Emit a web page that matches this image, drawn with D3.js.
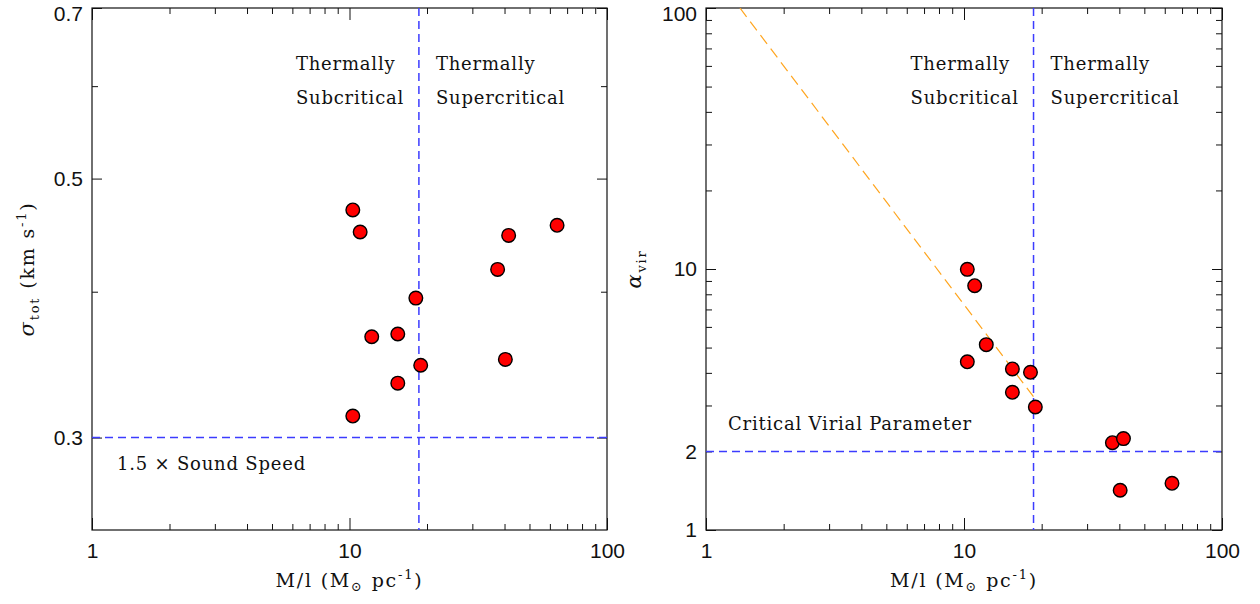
<!DOCTYPE html>
<html>
<head>
<meta charset="utf-8">
<script src="https://cdn.jsdelivr.net/npm/d3@7"></script>
<style>
  html, body { margin: 0; padding: 0; background: #fff; }
  svg { display: block; }
  .tick text { font-family: "Liberation Sans", Arial, sans-serif; font-size: 21px; fill: #111; }
  .ann { font-family: "DejaVu Serif", serif; font-size: 18px; letter-spacing: 0.8px; fill: #111; }
  .ttl { font-family: "DejaVu Serif", serif; font-size: 19px; letter-spacing: 1.8px; fill: #111; }
  .ref { stroke: #3c3cff; stroke-width: 1.5px; stroke-dasharray: 8 5; fill: none; }
</style>
</head>
<body>
<svg id="chart" width="1260" height="604"></svg>
<script>
// ---------------- data ----------------
const massPerLength = [10.3, 11.0, 12.2, 10.3, 15.4, 18.1, 15.4, 18.9, 37.6, 41.5, 40.3, 64.0];
const sigmaTot      = [0.470, 0.450, 0.366, 0.313, 0.368, 0.395, 0.334, 0.346, 0.418, 0.447, 0.350, 0.456];
const alphaVir      = [9.97, 8.63, 5.13, 4.41, 4.14, 4.02, 3.37, 2.96, 2.16, 2.24, 1.42, 1.51];

const criticalMassPerLength = 18.6;
const soundSpeedLimit = 0.3;
const criticalAlpha = 2;
const fitLineX = [1.354, 18.6];
const fitLineY = [100, 3.24];

const xDomain = [1, 100];
const sigmaDomain = [0.25, 0.7];
const alphaDomain = [1, 100];

const xMajorTicks = [1, 10, 100];
const xMinorTicks = [2,3,4,5,6,7,8,9,20,30,40,50,60,70,80,90];
const sigmaMajorTicks = [0.3, 0.5, 0.7];
const sigmaMinorTicks = [0.4, 0.6];
const sigmaTickLabels = ["0.3", "0.5", "0.7"];
const alphaMajorTicks = [1, 10, 100];
const alphaMinorTicks = [2,3,4,5,6,7,8,9,20,30,40,50,60,70,80,90];
const alphaLabelTicks = [1, 2, 10, 100];
const xTickLabels = ["1", "10", "100"];

// ---------------- layout ----------------
const svg = d3.select("#chart");
const plotTop = 8, plotBottom = 530;
const panels = [
  { x0: 92, x1: 607 },
  { x0: 706, x1: 1222 }
];
const orange = "#ffa51e";

function refLine(g, x1, y1, x2, y2) {
  g.append("path")
    .attr("class", "ref")
    .attr("d", d3.line()([[x1, y1], [x2, y2]]));
}

function drawPanel(p, yScale, yMajor, yMinor, yLabelVals, yLabelFmt, id) {
  const g = svg.append("g");
  const x = d3.scaleLog().domain(xDomain).range([p.x0, p.x1]);
  const y = yScale;
  const h = plotBottom - plotTop, w = p.x1 - p.x0;

  const clipId = "clip" + id;
  svg.append("clipPath").attr("id", clipId)
    .append("rect").attr("x", p.x0).attr("y", plotTop).attr("width", w).attr("height", h);

  function tickAxis(axis, transform, vals, size) {
    const a = g.append("g").attr("transform", transform)
      .call(axis.tickValues(vals).tickSize(size).tickFormat(""));
    a.select(".domain").remove();
    a.selectAll(".tick line").attr("stroke", "#111").attr("stroke-width", 1);
  }
  tickAxis(d3.axisBottom(x), `translate(0,${plotBottom})`, xMajorTicks, -12);
  tickAxis(d3.axisBottom(x), `translate(0,${plotBottom})`, xMinorTicks, -6);
  tickAxis(d3.axisTop(x), `translate(0,${plotTop})`, xMajorTicks, -12);
  tickAxis(d3.axisTop(x), `translate(0,${plotTop})`, xMinorTicks, -6);
  tickAxis(d3.axisLeft(y), `translate(${p.x0},0)`, yMajor, -10);
  tickAxis(d3.axisLeft(y), `translate(${p.x0},0)`, yMinor, -6);
  tickAxis(d3.axisRight(y), `translate(${p.x1},0)`, yMajor, -10);
  tickAxis(d3.axisRight(y), `translate(${p.x1},0)`, yMinor, -6);

  const xl = g.append("g").attr("transform", `translate(0,${plotBottom})`)
    .call(d3.axisBottom(x).tickValues(xMajorTicks).tickSize(0).tickPadding(13)
      .tickFormat((d, i) => xTickLabels[i]));
  xl.select(".domain").remove();
  const yl = g.append("g").attr("transform", `translate(${p.x0},0)`)
    .call(d3.axisLeft(y).tickValues(yLabelVals).tickSize(0).tickPadding(9)
      .tickFormat(yLabelFmt));
  yl.select(".domain").remove();
  yl.selectAll(".tick text").filter(d => y(d) < plotTop + 4).attr("y", 6);

  g.append("rect").attr("x", p.x0).attr("y", plotTop).attr("width", w).attr("height", h)
    .attr("fill", "none").attr("stroke", "#111").attr("stroke-width", 1.2);

  return { g, x, y, clipId };
}

// ---------------- left panel ----------------
const ySigma = d3.scaleLog().domain(sigmaDomain).range([plotBottom, plotTop]);
const L = drawPanel(panels[0], ySigma, sigmaMajorTicks, sigmaMinorTicks, sigmaMajorTicks,
  (d, i) => sigmaTickLabels[i], "L");

refLine(L.g, L.x(criticalMassPerLength), plotTop, L.x(criticalMassPerLength), plotBottom);
refLine(L.g, panels[0].x0, ySigma(soundSpeedLimit), panels[0].x1, ySigma(soundSpeedLimit));

L.g.selectAll("circle.pt").data(massPerLength).enter().append("circle")
  .attr("class", "pt")
  .attr("cx", d => L.x(d)).attr("cy", (d, i) => ySigma(sigmaTot[i]))
  .attr("r", 6.8).attr("fill", "#ff0000").attr("stroke", "#000").attr("stroke-width", 1.4);

// ---------------- right panel ----------------
const yAlpha = d3.scaleLog().domain(alphaDomain).range([plotBottom, plotTop]);
const R = drawPanel(panels[1], yAlpha, alphaMajorTicks, alphaMinorTicks, alphaLabelTicks,
  d => String(d), "R");

refLine(R.g, R.x(criticalMassPerLength), plotTop, R.x(criticalMassPerLength), plotBottom);
refLine(R.g, panels[1].x0, yAlpha(criticalAlpha), panels[1].x1, yAlpha(criticalAlpha));

R.g.append("path")
  .datum(fitLineX.map((d, i) => [d, fitLineY[i]]))
  .attr("clip-path", `url(#${R.clipId})`)
  .attr("d", d3.line().x(d => R.x(d[0])).y(d => yAlpha(d[1])))
  .style("fill", "none").style("stroke", orange).style("stroke-width", "1.2px")
  .style("stroke-dasharray", "11,6");

R.g.selectAll("circle.pt").data(massPerLength).enter().append("circle")
  .attr("class", "pt")
  .attr("cx", d => R.x(d)).attr("cy", (d, i) => yAlpha(alphaVir[i]))
  .attr("r", 6.8).attr("fill", "#ff0000").attr("stroke", "#000").attr("stroke-width", 1.4);

// ---------------- annotations ----------------
function regimeLabels(P) {
  const cx = P.x(criticalMassPerLength);
  const a = (txt, x, y) => P.g.append("text").attr("class", "ann").attr("x", x).attr("y", y).text(txt);
  a("Thermally", cx - 123, 70);
  a("Subcritical", cx - 123, 104);
  a("Thermally", cx + 17, 70);
  a("Supercritical", cx + 17, 104);
}
regimeLabels(L);
regimeLabels(R);

L.g.append("text").attr("class", "ann")
  .attr("x", panels[0].x0 + 25).attr("y", ySigma(soundSpeedLimit) + 32)
  .text("1.5 × Sound Speed");
R.g.append("text").attr("class", "ann")
  .attr("x", panels[1].x0 + 22).attr("y", yAlpha(criticalAlpha) - 21)
  .text("Critical Virial Parameter");

// axis titles
panels.forEach(p => {
  const t = svg.append("text").attr("class", "ttl")
    .attr("x", (p.x0 + p.x1) / 2).attr("y", 587).attr("text-anchor", "middle");
  t.append("tspan").text("M/l (M");
  t.append("tspan").attr("font-size", "13px").attr("dy", 4).text("⊙");
  t.append("tspan").attr("dy", -4).text(" pc");
  t.append("tspan").attr("font-size", "13px").attr("dy", -8).text("-1");
  t.append("tspan").attr("dy", 8).text(")");
});

const yt1 = svg.append("text").attr("class", "ttl").attr("text-anchor", "middle")
  .attr("transform", `translate(34,${(plotTop + plotBottom) / 2}) rotate(-90)`);
yt1.append("tspan").attr("font-style", "italic").attr("font-size", "21px").text("σ");
yt1.append("tspan").attr("font-size", "13px").attr("dy", 5).text("tot");
yt1.append("tspan").attr("dy", -5).text(" (km s");
yt1.append("tspan").attr("font-size", "13px").attr("dy", -8).text("-1");
yt1.append("tspan").attr("dy", 8).text(")");

const yt2 = svg.append("text").attr("class", "ttl").attr("text-anchor", "middle")
  .attr("transform", `translate(641,${(plotTop + plotBottom) / 2}) rotate(-90)`);
yt2.append("tspan").attr("font-style", "italic").attr("font-size", "21px").text("α");
yt2.append("tspan").attr("font-size", "13px").attr("dy", 5).text("vir");
</script>
</body>
</html>
